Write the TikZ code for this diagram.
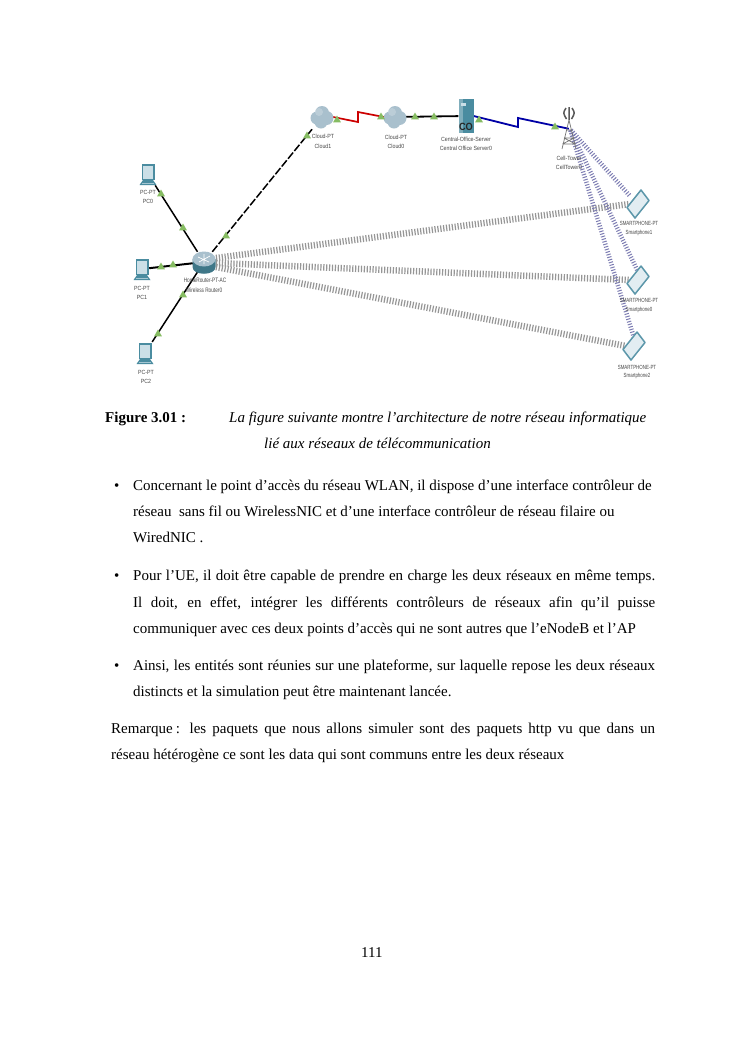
\documentclass[tikz,border=0pt]{standalone}
\usepackage{fontspec}
\setmainfont{Liberation Serif}
\newfontfamily\labelfont[FakeStretch=0.88]{Liberation Sans}
\newfontfamily\phonefont[FakeStretch=0.74]{Liberation Sans}
\usetikzlibrary{shapes.geometric,shapes.symbols}
\definecolor{teal1}{HTML}{4A8CA0}
\definecolor{screen}{HTML}{CBDFE7}
\definecolor{okgreen}{HTML}{86BC62}
\definecolor{cloudc}{HTML}{A9C0CD}
\definecolor{wirelessg}{HTML}{969696}
\definecolor{wirelessb}{HTML}{7C7CB2}
\tikzset{
  x=1pt,y=-1pt,
  tinylabel/.style={font=\labelfont\fontsize{6}{7}\selectfont,text=black!72,inner sep=0pt},
  phonelabel/.style={font=\phonefont\fontsize{6}{7}\selectfont,text=black!72,inner sep=0pt},
  wired/.style={line width=1.5pt,black},
  fiber/.style={line width=1.5pt,black,dash pattern=on 8pt off 2pt},
  radio/.style={line width=6.5pt,wirelessg,dash pattern=on 1.2pt off 1.7pt},
  radioblue/.style={line width=4.5pt,wirelessb,dash pattern=on 1pt off 1.7pt},
  linkup/.style={regular polygon,regular polygon sides=3,fill=okgreen,inner sep=0pt,minimum size=9pt,draw=none},
  body/.style={font=\fontsize{15}{17}\selectfont,anchor=base west,inner sep=0pt},
  pcicon/.pic={
    \fill[teal1] (-6.5,-10) rectangle (6.5,6);
    \fill[screen] (-5,-8.5) rectangle (5,4.5);
    \fill[teal1] (-5,6) -- (5,6) -- (8.5,11) -- (-8.5,11) -- cycle;
    \fill[screen!70!teal1] (-6,8.5) rectangle (6,9.5);
  },
  routericon/.pic={
    \fill[teal1!85!black] (-11.5,-3) -- (-11.5,5) .. controls (-11.5,14) and (11.5,14) .. (11.5,5) -- (11.5,-3) -- cycle;
    \fill[cloudc] (0,-3) ellipse[x radius=11.5,y radius=7.5];
    \draw[white,line width=.7pt] (-6,-5) -- (5,0) (-5,0) -- (6,-6) (0,-8) -- (0,2);
  },
  cloudicon/.pic={
    \fill[cloudc] (-5,1) circle[radius=6.5] (4.5,1) circle[radius=7] (0,-4) circle[radius=7] (-1,5) circle[radius=6.5] (0,0) circle[radius=7];
    \fill[white,opacity=.22] (-3,-5) circle[radius=4];
  },
  servericon/.pic={
    \fill[teal1] (-7.5,-17) rectangle (7.5,17);
    \fill[teal1!70!white] (-7.5,-17) rectangle (-3,17);
    \fill[screen] (-5,-13) rectangle (-.5,-10);
    \node[font=\labelfont\bfseries\fontsize{10.5}{11}\selectfont,text=black!85,inner sep=0pt] at (0,11) {CO};
  },
  towericon/.pic={
    \draw[black!55,line width=.7pt] (0,-8) -- (-7,21) (0,-8) -- (7,21) (-5,10) -- (5,10) (-6.5,16) -- (6.5,16) (-3,2) -- (3,2) (-6.5,16) -- (5,10) (6.5,16) -- (-5,10);
    \draw[black!65,line width=1.5pt] (-3,-20) .. controls (-6,-15) .. (-2.5,-9) (3,-20) .. controls (6,-15) .. (2.5,-9) (0,-21) -- (0,-8);
  },
  phoneicon/.pic={
    \draw[teal1!90,line width=1.5pt,fill=screen!55!white,line join=round] (3,-14) -- (11,-3.5) -- (-3,14) -- (-11,3.5) -- cycle;
  }
}
\begin{document}
\begin{tikzpicture}
\useasboundingbox (0,0) rectangle (744,1053);
\fill[white] (0,0) rectangle (744,1053);

% anchors for the equipment
\node[inner sep=0pt,minimum width=14pt,minimum height=24pt] (pc0) at (148,174) {};
\node[inner sep=0pt,minimum width=14pt,minimum height=24pt] (pc1) at (142,269) {};
\node[inner sep=0pt,minimum width=14pt,minimum height=24pt] (pc2) at (145,353) {};
\node[inner sep=0pt,minimum width=22pt,minimum height=20pt] (router) at (204,262) {};
\node[inner sep=0pt,minimum width=22pt,minimum height=22pt] (cloud1) at (322,117) {};
\node[inner sep=0pt,minimum width=22pt,minimum height=22pt] (cloud0) at (395,117) {};
\node[inner sep=0pt,minimum width=15pt,minimum height=34pt] (server) at (466,116) {};
\node[inner sep=0pt,minimum size=2pt] (tower) at (570,129) {};
\node[inner sep=0pt,minimum size=16pt] (phone1) at (638,204) {};
\node[inner sep=0pt,minimum size=16pt] (phone0) at (638,280) {};
\node[inner sep=0pt,minimum size=16pt] (phone2) at (634,346) {};
\coordinate (r1) at (358,122);\coordinate (r2) at (358,112);
\coordinate (b1) at (518,127);\coordinate (b2) at (518,118);

% radio links
\draw[radio] (216,258) -- (phone1.west);
\draw[radio] (216,263) -- (phone0.west);
\draw[radio] (216,267) -- (phone2.west);
\draw[radioblue] (tower) -- (phone1.north west);
\draw[radioblue] (tower) -- (phone0.north);
\draw[radioblue] (tower) -- (phone2.north);

% wired links
\draw[wired] (pc0) -- (router);
\draw[wired,line width=2pt] (pc1) -- (router);
\draw[wired] (pc2) -- (router);
\draw[fiber] (router) -- (cloud1);
\draw[line width=1.7pt,red!80!black] (cloud1.east) -- (r1) -- (r2) -- (cloud0.west);
\draw[line width=1.8pt,black] (cloud0) -- (server);
\draw[line width=1.8pt,blue!65!black] (server.east) -- (b1) -- (b2) -- (tower);

% equipment
\path (pc0) pic {pcicon};
\path (pc1) pic {pcicon};
\path (pc2) pic {pcicon};
\path (router) pic {routericon};
\path (cloud1) pic {cloudicon};
\path (cloud0) pic {cloudicon};
\path (server) pic {servericon};
\path (569,128) pic {towericon};
\path (phone1) pic {phoneicon};
\path (phone0) pic {phoneicon};
\path (phone2) pic {phoneicon};

% link lights
\foreach \i/\p in {a/{337,120},b/{381,117},c/{415,117},d/{434,117},e/{479,120},f/{555,127},g/{307,136},h/{161,194},k/{183,228},l/{161,267},m/{173,265},n/{183,295},o/{158,334},p/{226,236}}
  \node[linkup] (light\i) at (\p) {};

% equipment labels
\node[tinylabel] (lpc0a) at (148,192) {PC-PT};
\node[tinylabel] (lpc0b) at (148,201) {PC0};
\node[tinylabel] (lpc1a) at (142,288) {PC-PT};
\node[tinylabel] (lpc1b) at (142,297) {PC1};
\node[tinylabel] (lpc2a) at (146,372) {PC-PT};
\node[tinylabel] (lpc2b) at (146,381) {PC2};
\node[phonelabel,font=\phonefont\fontsize{6.4}{7}\selectfont] (lra) at (205,280) {HomeRouter-PT-AC};
\node[phonelabel,font=\phonefont\fontsize{6.4}{7}\selectfont] (lrb) at (204,290) {Wireless Router0};
\node[tinylabel] (lc1a) at (323,136) {Cloud-PT};
\node[tinylabel] (lc1b) at (323,146) {Cloud1};
\node[tinylabel] (lc0a) at (396,137) {Cloud-PT};
\node[tinylabel] (lc0b) at (396,146) {Cloud0};
\node[tinylabel] (lsa) at (466,139) {Central-Office-Server};
\node[tinylabel] (lsb) at (466,148) {Central Office Server0};
\node[tinylabel] (lta) at (569,158) {Cell-Tower};
\node[tinylabel] (ltb) at (569,167) {CellTower0};
\node[phonelabel] (lp1a) at (639,223) {SMARTPHONE-PT};
\node[phonelabel] (lp1b) at (639,233) {Smartphone1};
\node[phonelabel] (lp0a) at (639,300) {SMARTPHONE-PT};
\node[phonelabel] (lp0b) at (639,310) {Smartphone0};
\node[phonelabel] (lp2a) at (637,367) {SMARTPHONE-PT};
\node[phonelabel] (lp2b) at (637,376) {Smartphone2};

% page text
\node[body] (figno) at (105,422) {\textbf{Figure 3.01 :}};
\node[body] (cap1) at (229,422) {\textit{La figure suivante montre l’architecture de notre réseau informatique}};
\node[body] (cap2) at (264,448) {\textit{lié aux réseaux de télécommunication}};

\node[body] (b1m) at (114,490) {•};
\node[body] (l1) at (133,490) {Concernant le point d’accès du réseau WLAN, il dispose d’une interface contrôleur de};
\node[body] (l2) at (133,516) {réseau\ \ sans fil ou WirelessNIC et d’une interface contrôleur de réseau filaire ou};
\node[body] (l3) at (133,542) {WiredNIC .};

\node[body] (b2m) at (114,580) {•};
\node[body] (l4) at (133,580) {\makebox[522pt][s]{Pour l’UE, il doit être capable de prendre en charge les deux réseaux en même temps.}};
\node[body] (l5) at (133,607) {\makebox[522pt][s]{Il doit, en effet, intégrer les différents contrôleurs de réseaux afin qu’il puisse}};
\node[body] (l6) at (133,633) {communiquer avec ces deux points d’accès qui ne sont autres que l’eNodeB et l’AP};

\node[body] (b3m) at (114,670) {•};
\node[body] (l7) at (133,670) {\makebox[522pt][s]{Ainsi, les entités sont réunies sur une plateforme, sur laquelle repose les deux réseaux}};
\node[body] (l8) at (133,696) {distincts et la simulation peut être maintenant lancée.};

\node[body] (l9) at (111,733) {\makebox[544pt][s]{Remarque\kern3pt: les paquets que nous allons simuler sont des paquets http vu que dans un}};
\node[body] (l10) at (111,759) {réseau hétérogène ce sont les data qui sont communs entre les deux réseaux};

\node[body] (page) at (361,957) {111};
\end{tikzpicture}
\end{document}
